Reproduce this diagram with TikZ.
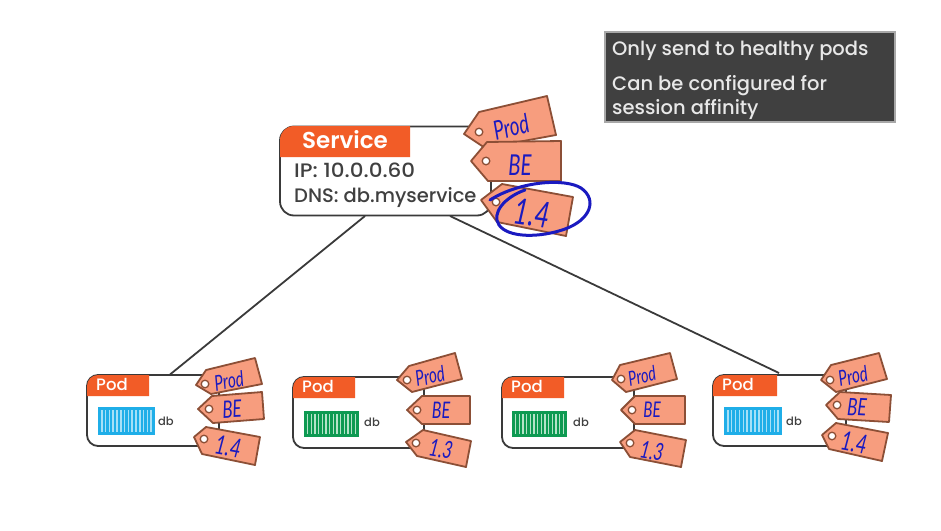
\documentclass[tikz,border=0pt]{standalone}
\usepackage{fontspec}
\setmainfont{Poppins}[UprightFont=* Medium,BoldFont=* SemiBold]
\newfontfamily\handfont{Lato}
\definecolor{linegray}{HTML}{3A3A3A}
\definecolor{hdrorange}{HTML}{F25C27}
\definecolor{tagfill}{HTML}{F79D7E}
\definecolor{tagedge}{HTML}{8C4F36}
\definecolor{inkblue}{HTML}{1A1AC0}
\definecolor{boxdark}{HTML}{404040}
\definecolor{boxedge}{HTML}{A8A8A8}
\definecolor{boxtext}{HTML}{E8E8E8}
\definecolor{txtgray}{HTML}{404040}
\definecolor{contblue}{HTML}{1FAEE8}
\definecolor{stripeblue}{HTML}{A6E0F7}
\definecolor{contgreen}{HTML}{0E9A52}
\definecolor{stripegreen}{HTML}{B5E3C8}
\tikzset{
  link/.style={draw=linegray,line width=1.8pt},
  frame/.style={draw=linegray,line width=1.8pt,fill=white,rounded corners=11pt},
  header/.style={fill=hdrorange},
  tagbody/.style={draw=tagedge,fill=tagfill,line width=1.8pt,line join=round},
  taghole/.style={draw=tagedge,fill=white,line width=1.3pt},
  tagtext/.style={text=inkblue,inner sep=0pt,font=\handfont\itshape},
  lbl/.style={inner sep=0pt,anchor=base west},
}
% name, polygon, hole, label pos, angle, size, text
\newcommand{\hangtag}[7]{%
  \path[tagbody] #2 -- cycle;
  \path[taghole] #3 circle[radius=3.8pt];
  \node[tagtext,rotate=#5] (#1) at #4 {\scalebox{0.85}[1.2]{\fontsize{#6}{#6}\selectfont #7}};
}
% name, left, top, right, bottom, header right, header bottom, label x
\newcommand{\podbox}[8]{%
  \node[frame,minimum width=#4pt-#2pt,minimum height=#5pt-#3pt,inner sep=0pt] (#1) at ({(#2+#4)/2},{(#3+#5)/2}) {};
  \path[header] (#2,#7) -- (#2,#3+11) arc[start angle=180,end angle=90,radius=11pt] -- (#6,#3) -- (#6,#7) -- cycle;
  \node[lbl,text=white,font=\fontsize{16.5}{16.5}\selectfont] (#1label) at (#8,#7-6) {Pod};
}
% name, left, top, right, bottom, colour, stripe colour
\newcommand{\containerbox}[7]{%
  \node[fill=#6,minimum width=#4pt-#2pt,minimum height=#5pt-#3pt,inner sep=0pt] (#1) at ({(#2+#4)/2},{(#3+#5)/2}) {};
  \foreach \k in {1,...,14}{
    \draw[#7,line width=1.5pt] ({#2+(#4-#2)*\k/15},#3+3) -- ({#2+(#4-#2)*\k/15},#5-3);
  }
}
\begin{document}
\begin{tikzpicture}[x=1pt,y=-1pt]
\useasboundingbox (0,0) rectangle (941,530);
% note box
\node[draw=boxedge,fill=boxdark,line width=1.5pt,minimum width=290pt,minimum height=90pt,inner sep=0pt] (note) at (750,77) {};
\node[lbl,text=boxtext,font=\fontsize{19.5}{19.5}\selectfont] (n1) at (612,55) {Only send to healthy pods};
\node[lbl,text=boxtext,font=\fontsize{19.5}{19.5}\selectfont] (n2) at (612,90) {Can be configured for};
\node[lbl,text=boxtext,font=\fontsize{19.5}{19.5}\selectfont] (n3) at (612,114) {session affinity};
% service
\node[frame,minimum width=211pt,minimum height=89pt,inner sep=0pt,rounded corners=14pt] (svc) at (385.5,171) {};
\path[header] (280,157) -- (280,140) arc[start angle=180,end angle=90,radius=14pt] -- (410,126) -- (410,157) -- cycle;
\node[lbl,text=white,font=\fontsize{23}{23}\selectfont\bfseries] (svct) at (302,148) {Service};
\node[lbl,text=txtgray,font=\fontsize{19.5}{19.5}\selectfont] (ip) at (294,177) {\scalebox{1.1}[1]{IP: 10.0.0.60}};
\node[lbl,text=txtgray,font=\fontsize{19.5}{19.5}\selectfont] (dns) at (294,202) {DNS: db.myservice};
% pods
\podbox{pa}{87}{375}{219}{446}{149}{396}{96}
\podbox{pb}{293}{377}{424}{448}{355}{398}{302}
\podbox{pc}{502}{377}{634}{448}{564}{398}{511}
\podbox{pd}{713}{375}{846}{446}{777}{396}{722}
% connectors
\coordinate (sl) at (365,216);
\coordinate (sr) at (450,216);
\coordinate (pal) at (170,374.5);
\coordinate (pdl) at (779,373);
\draw[link] (sl) -- (pal);
\draw[link] (sr) -- (pdl);
% containers
\containerbox{ca}{98}{407}{155}{435}{contblue}{stripeblue}
\containerbox{cb}{304}{411}{359}{437}{contgreen}{stripegreen}
\containerbox{cc}{512}{411}{567}{437}{contgreen}{stripegreen}
\containerbox{cd}{724}{407}{782}{435}{contblue}{stripeblue}
\node[lbl,text=txtgray,font=\fontsize{11.5}{11.5}\selectfont] (da) at (158,425) {db};
\node[lbl,text=txtgray,font=\fontsize{11.5}{11.5}\selectfont] (db) at (364,426) {db};
\node[lbl,text=txtgray,font=\fontsize{11.5}{11.5}\selectfont] (dc) at (573,426) {db};
\node[lbl,text=txtgray,font=\fontsize{11.5}{11.5}\selectfont] (dd) at (786,425) {db};
% service tags
\hangtag{t1}{(464,134) -- (479,112) -- (547,96) -- (556,135) -- (485,148)}{(479,132)}{(511,127)}{15}{22}{Prod}
\hangtag{t2}{(471,161) -- (487,142) -- (561,141) -- (561,181) -- (488,181)}{(486,161)}{(520,165)}{0}{24}{BE}
\hangtag{t3}{(481,200) -- (502,184) -- (573,197) -- (566,236) -- (497,222)}{(496,202)}{(532,213)}{-8}{30}{1.4}
\draw[inkblue,line width=3pt,line cap=round,line join=round]
  (490,200) .. controls (520,181) and (565,178) .. (581,188) .. controls (598,200) and (590,220) .. (565,229)
  .. controls (540,238) and (508,238) .. (499,225) .. controls (491,213) and (505,197) .. (525,190);
% pod tags
\hangtag{a1}{(196,385) -- (206,370) -- (255,358) -- (262,384) -- (211,394)}{(205,384)}{(229,381)}{10}{18}{Prod}
\hangtag{a2}{(198,409) -- (212,396) -- (262,392) -- (264,419) -- (213,423)}{(209,409)}{(232,409)}{3}{20}{BE}
\hangtag{a3}{(194,437) -- (206,427) -- (260,437) -- (255,465) -- (202,454)}{(204,439)}{(228,447)}{-10}{22}{1.4}
\hangtag{b1}{(397,380) -- (409,366) -- (455,353) -- (462,379) -- (412,392)}{(407,380)}{(430,376)}{12}{18}{Prod}
\hangtag{b2}{(407,410) -- (422,396) -- (470,396) -- (470,424) -- (422,424)}{(417,410)}{(441,410)}{0}{19}{BE}
\hangtag{b3}{(406,442) -- (423,430) -- (471,441) -- (466,467) -- (417,456)}{(416,443)}{(441,449)}{-10}{20}{1.3}
\hangtag{c1}{(612,380) -- (620,365) -- (670,353) -- (677,379) -- (626,392)}{(621,379)}{(642,376)}{12}{17}{Prod}
\hangtag{c2}{(621,410) -- (635,396) -- (685,396) -- (685,424) -- (635,424)}{(632,410)}{(652,410)}{0}{18}{BE}
\hangtag{c3}{(620,442) -- (635,430) -- (686,440) -- (681,467) -- (630,457)}{(630,443)}{(652,451)}{-10}{20}{1.3}
\hangtag{d1}{(821,380) -- (831,365) -- (879,353) -- (887,379) -- (836,392)}{(830,380)}{(853,376)}{12}{18}{Prod}
\hangtag{d2}{(826,405) -- (840,392) -- (891,395) -- (889,422) -- (838,419)}{(837,405)}{(857,407)}{-3}{20}{BE}
\hangtag{d3}{(822,435) -- (836,423) -- (888,433) -- (882,461) -- (829,449)}{(832,436)}{(854,443)}{-10}{22}{1.4}
\end{tikzpicture}
\end{document}
